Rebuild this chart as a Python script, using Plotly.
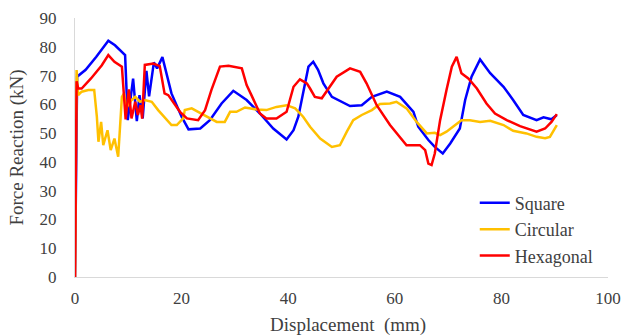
import plotly.graph_objects as go

# Square
sq_x = [0, 0.4, 2, 4, 6.25, 7.5, 9.4, 9.9, 10.9, 11.6, 12.1, 12.7, 13.4, 13.9, 14.8, 15.4, 16.4, 17.2, 18.1,
        20, 21.3, 23.5, 25.3, 27.5, 29.7, 32.2, 34.7, 37.2, 39.7, 41, 41.9, 43.8, 44.7, 45.6, 46.6, 48.2,
        51.6, 53.8, 55.7, 58.5, 61, 63.5, 64.4, 66.3, 67.5, 69, 70.4, 72.2, 73.2, 74.4, 76, 77.9, 80.4,
        82.2, 84.1, 86.6, 87.9, 89.4, 90.4]
sq_y = [0, 69.6, 72, 76.5, 82.1, 80.5, 77.1, 54.5, 68.9, 54.2, 63.2, 55.1, 71.6, 62.8, 74.6, 72.5, 76.4, 70, 63.8,
        55.7, 51.3, 51.6, 54.5, 60.3, 64.7, 61.5, 56.8, 51.6, 47.8, 51, 55.7, 73.1, 74.8, 72, 67.3, 62.6,
        59.4, 59.7, 62.6, 64.4, 62.6, 57.4, 52.2, 47.6, 45.2, 42.9, 46.4, 51.6, 61.5, 69.6, 75.6, 70.8, 66.1,
        61.5, 56.3, 54.5, 55.5, 54.8, 56.3]

# Circular
ci_x = [0, 0.3, 0.6, 1.25, 2.5, 3.6, 4.1, 4.4, 4.9, 5.3, 6.1, 6.7, 7.4, 8.1, 8.8, 9.2, 9.6, 10.3, 11.3, 12.2,
        13.1, 14.4, 15.6, 16.9, 18.1, 19.1, 20.3, 20.6, 21.9, 23.1, 24.7, 26.6, 28.1, 29.1, 30.3, 31.9, 34.1,
        35.9, 37.8, 39.7, 41.3, 42.8, 44.1, 46, 48.2, 49.7, 51, 52.2, 53.8, 55.7, 57.2, 59.1, 60.3, 62.2,
        64.1, 66, 67.5, 68.5, 69.7, 71, 72.5, 74.1, 76, 77.9, 80.4, 82.2, 84.7, 86.6, 88.2, 89.1, 90.4]
ci_y = [0, 71.9, 63.2, 64.4, 65, 65, 55.7, 47, 53.9, 45.8, 51, 44.1, 48.1, 41.8, 62.6, 63.8, 58.6, 60.9, 62.6, 60.9,
        61.5, 60.9, 58, 55.1, 52.8, 52.8, 55.1, 58, 58.6, 57.4, 55.7, 53.9, 53.9, 57.4, 57.4, 58.9, 58.2,
        58, 59.1, 59.7, 58.6, 55.7, 52.2, 48.1, 45.2, 45.8, 50.5, 54.5, 56.3, 58, 60.1, 60.3, 60.9, 58.6,
        53.9, 49.9, 50.1, 49.3, 50.5, 52.4, 54.5, 54.5, 53.9, 54.3, 52.8, 50.8, 49.9, 48.7, 48.2, 48.7, 52.8]

# Hexagonal
hx_x = [0, 0.3, 0.6, 1.25, 3, 5, 6.25, 7.4, 8.8, 9.5, 10.1, 10.6, 11.3, 11.8, 12.3, 12.6, 13.1, 14.7, 15.9,
        16.8, 17.5, 18.8, 19.7, 21, 23.1, 24.4, 25.6, 27.2, 28.8, 31.3, 32.2, 33.1, 34.7, 35.9, 37.8, 39.7,
        41, 42.2, 43.5, 44.1, 45, 46.3, 47.2, 49.1, 51.6, 53.5, 54.7, 56.6, 59.1, 61, 62.2, 64.7, 65.7, 66.3,
        66.9, 67.5, 68.5, 69.7, 70.7, 71.6, 72.5, 73.8, 75.4, 77.2, 78.8, 81, 83.5, 86.6, 88.2, 89.4, 90.4]
hx_y = [0, 68, 65.5, 65.5, 69, 73.5, 77.1, 74.8, 73.1, 54.8, 65.2, 55.1, 60.9, 56.3, 59.7, 55, 73.7, 74.2, 73.3,
        63.8, 63.2, 59.7, 57.4, 55.1, 54.5, 58, 65, 73.1, 73.4, 72.5, 66.7, 63.2, 56.8, 55.1, 55.1, 57.4,
        66.1, 68.7, 67.3, 65.5, 62.6, 62.1, 64.4, 69.6, 72.5, 71.3, 67.3, 59.7, 52.8, 48.7, 45.8, 45.8, 44.1, 39.4,
        38.9, 42.9, 54.5, 65, 73.1, 76.5, 70.8, 69, 65.5, 60.3, 56.8, 54.5, 52.4, 50.5, 51.6, 53.9, 56.6]

x_ticks = [0, 20, 40, 60, 80, 100]
y_ticks = [0, 10, 20, 30, 40, 50, 60, 70, 80, 90]
x_title = "Displacement  (mm)"
y_title = "Force Reaction (kN)"

FONT = "Liberation Serif"
TXT = "#404040"

fig = go.Figure()
fig.add_trace(go.Scatter(x=sq_x, y=sq_y, mode="lines", name="Square",
                         line=dict(color="#0000FF", width=2.5)))
fig.add_trace(go.Scatter(x=ci_x, y=ci_y, mode="lines", name="Circular",
                         line=dict(color="#FFC000", width=2.5)))
fig.add_trace(go.Scatter(x=hx_x, y=hx_y, mode="lines", name="Hexagonal",
                         line=dict(color="#FF0000", width=2.5)))

fig.update_layout(
    width=627, height=336,
    margin=dict(l=75, r=19, t=18, b=59),
    paper_bgcolor="white", plot_bgcolor="white",
    font=dict(family=FONT, size=17, color=TXT),
    showlegend=True,
    legend=dict(x=0.750, y=0.357, xanchor="left", yanchor="top",
                font=dict(family=FONT, size=18, color=TXT),
                bgcolor="rgba(0,0,0,0)", tracegroupgap=0, itemwidth=30),
    xaxis=dict(range=[0, 100], tickvals=x_ticks, showgrid=False, zeroline=False,
               showline=True, linecolor="#d9d9d9", linewidth=1, ticks="",
               ticklabelstandoff=6, automargin=False, ticklabeloverflow="allow"),
    yaxis=dict(range=[0, 90], tickvals=y_ticks, showgrid=False, zeroline=False,
               showline=True, linecolor="#d9d9d9", linewidth=1, ticks="",
               ticklabelstandoff=14, automargin=False,
               title=dict(text=y_title, font=dict(family=FONT, size=19, color=TXT), standoff=10)),
    annotations=[dict(text=x_title, xref="paper", yref="paper", x=0.512, y=0,
                      xanchor="center", yanchor="middle", yshift=-48, showarrow=False,
                      font=dict(family=FONT, size=19, color=TXT))],
)

# Remove the page's default body margin so the figure fills the window exactly.
fig.write_html("out.html",
               config={"displayModeBar": False},
               post_script="document.body.style.margin='0';document.body.style.overflow='hidden';")
